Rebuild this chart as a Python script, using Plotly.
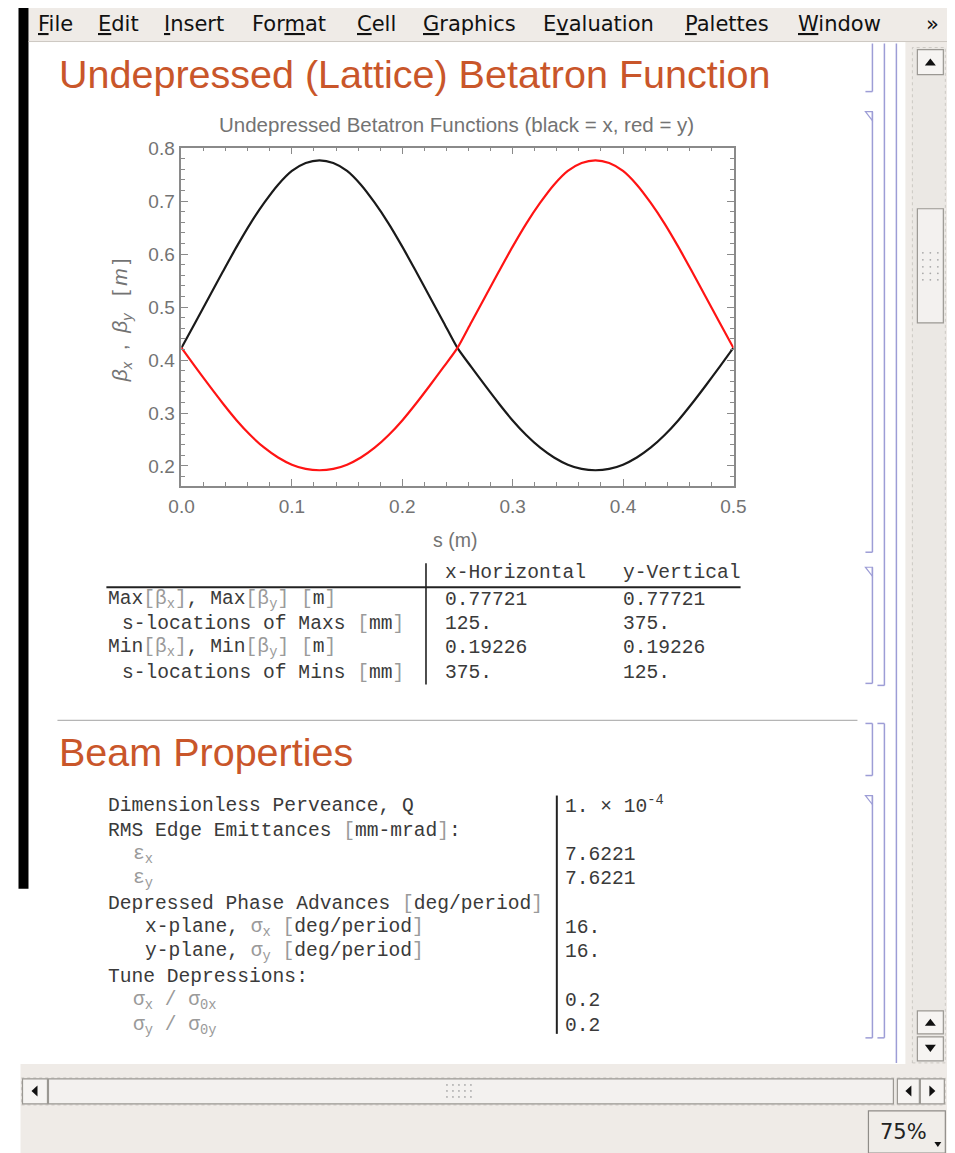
import plotly.graph_objects as go

# ---------------- data ----------------
s_m = [0.0, 0.0125, 0.025, 0.0375, 0.05, 0.0625, 0.075, 0.0875, 0.1, 0.1125, 0.125,
       0.1375, 0.15, 0.1625, 0.175, 0.1875, 0.2, 0.2125, 0.225, 0.2375, 0.25,
       0.2625, 0.275, 0.2875, 0.3, 0.3125, 0.325, 0.3375, 0.35, 0.3625, 0.375,
       0.3875, 0.4, 0.4125, 0.425, 0.4375, 0.45, 0.4625, 0.475, 0.4875, 0.5]
beta_x = [0.423, 0.471, 0.519, 0.567, 0.614, 0.658, 0.697, 0.731, 0.757, 0.772, 0.777,
          0.772, 0.757, 0.731, 0.697, 0.658, 0.614, 0.567, 0.519, 0.471, 0.423,
          0.387, 0.352, 0.318, 0.286, 0.258, 0.2345, 0.216, 0.2025, 0.1945, 0.192,
          0.1945, 0.2025, 0.216, 0.2345, 0.258, 0.286, 0.318, 0.352, 0.387, 0.423]
beta_y = [0.423, 0.387, 0.352, 0.318, 0.286, 0.258, 0.2345, 0.216, 0.2025, 0.1945, 0.192,
          0.1945, 0.2025, 0.216, 0.2345, 0.258, 0.286, 0.318, 0.352, 0.387, 0.423,
          0.471, 0.519, 0.567, 0.614, 0.658, 0.697, 0.731, 0.757, 0.772, 0.777,
          0.772, 0.757, 0.731, 0.697, 0.658, 0.614, 0.567, 0.519, 0.471, 0.423]

menu_items = ["<u>F</u>ile", "<u>E</u>dit", "<u>I</u>nsert", "For<u>m</u>at", "<u>C</u>ell",
              "<u>G</u>raphics", "E<u>v</u>aluation", "<u>P</u>alettes", "<u>W</u>indow", "»"]
menu_x = [36, 96, 162, 250, 355, 421, 541, 683, 796, 925]

section_titles = ["Undepressed (Lattice) Betatron Function", "Beam Properties"]
chart_title = "Undepressed Betatron Functions (black = x, red = y)"

table_cols = ["x-Horizontal", "y-Vertical"]
table_x_values = ["0.77721", "125.", "0.19226", "375."]
table_y_values = ["0.77721", "375.", "0.19226", "125."]

beam_values = ["1. × 10<sup>-4</sup>", "", "7.6221", "7.6221", "", "16.", "16.", "", "0.2", "0.2"]

# ---------------- helpers (screen pixel -> paper fraction) ----------------
W, H = 955, 1153
OX, KX = 20.5, 0.974
OY, KY = 18.5, 0.990
def X(px): return ((px - OX) / KX) / W
def Y(py): return 1 - ((py - OY) / KY) / H

shapes = []
annotations = []
UI = "#efebe7"
BR = "#9d9dd6"
INK = "#3a3a3a"

def rect(x0, y0, x1, y1, fill, line=None, lw=1.0, dash=None, layer="below"):
    shapes.append(dict(type="rect", xref="paper", yref="paper",
                       x0=X(x0), x1=X(x1), y0=Y(y1), y1=Y(y0), fillcolor=fill,
                       line=dict(color=line if line else fill, width=lw if line else 0, dash=dash),
                       layer=layer))

def seg(x0, y0, x1, y1, color, width=1.0, dash=None):
    shapes.append(dict(type="line", xref="paper", yref="paper",
                       x0=X(x0), x1=X(x1), y0=Y(y0), y1=Y(y1),
                       line=dict(color=color, width=width, dash=dash)))

def poly(pts, fill, line=None):
    d = "M " + " L ".join(f"{X(a):.5f},{Y(b):.5f}" for a, b in pts) + " Z"
    shapes.append(dict(type="path", xref="paper", yref="paper", path=d,
                       fillcolor=fill,
                       line=dict(color=line if line else fill, width=1.2 if line else 0)))

def dot(x, y, r=0.9, color="#a8a8a8"):
    shapes.append(dict(type="circle", xref="paper", yref="paper",
                       x0=X(x - r), x1=X(x + r), y0=Y(y + r), y1=Y(y - r),
                       fillcolor=color, line=dict(width=0)))

def txt(x, y, s, size, color=INK, family="Liberation Mono", xanchor="left", angle=0):
    annotations.append(dict(x=X(x), y=Y(y), xref="paper", yref="paper", text=s,
                            showarrow=False, xanchor=xanchor, yanchor="middle",
                            textangle=angle, font=dict(size=size, color=color, family=family)))

def g(s):
    return f"<span style='color:#9a9a9a'>{s}</span>"

# ---------------- window chrome ----------------
rect(28, 0, 956, 42, UI)
seg(28, 42, 956, 42, "#cdc8c2", 1)
rect(18, 4, 28, 888, "#000000")
rect(906, 42, 951, 1065, UI)
rect(20, 1063, 951, 1154, UI)

# right scrollbar
rect(913, 48, 946, 1062, "#ebe8e4", "#c4c0bb", 0.8, "dot")
rect(918, 50, 944, 75, "#f6f4f2", "#9b9893", 1.2)
poly([(925.5, 66), (936.5, 66), (931, 59)], "#111111")
rect(918, 209, 944, 323, "#f3f1ef", "#9b9893", 1.2)
for gx in (923.5, 931, 938.5):
    for gy in (253, 260, 267, 273.5, 280):
        dot(gx, gy)
rect(918, 1010, 944, 1033, "#f6f4f2", "#9b9893", 1.2)
poly([(925.5, 1025), (936.5, 1025), (931, 1018)], "#111111")
rect(918, 1036, 944, 1060, "#f6f4f2", "#9b9893", 1.2)
poly([(925.5, 1044), (936.5, 1044), (931, 1051)], "#111111")

# bottom scrollbar
rect(21, 1077, 946, 1104, "#ebe8e4", "#c4c0bb", 0.8, "dot")
rect(22, 1078, 47, 1103, "#f6f4f2", "#9b9893", 1.2)
poly([(37, 1084.5), (37, 1095.5), (31, 1090)], "#111111")
rect(48, 1078, 894, 1103, "#f3f1ef", "#9b9893", 1.2)
for gx in (447, 453, 459, 465, 471):
    for gy in (1084, 1090, 1096):
        dot(gx, gy)
rect(898, 1078, 920, 1103, "#f6f4f2", "#9b9893", 1.2)
poly([(912, 1084.5), (912, 1095.5), (906, 1090)], "#111111")
rect(921, 1078, 945, 1103, "#f6f4f2", "#9b9893", 1.2)
poly([(930, 1084.5), (930, 1095.5), (936, 1090)], "#111111")

# zoom box
rect(869, 1110, 946, 1152, "#f0ede9", "#8f8c88", 1.2)
txt(904, 1131, "75%", 21, "#222222", "DejaVu Sans", "center")
poly([(935, 1141), (942, 1141), (938.5, 1146)], "#111111")

# menu texts
for mx, mt in zip(menu_x, menu_items):
    txt(mx, 24, mt, 21, "#111111", "DejaVu Sans")

# ---------------- cell brackets ----------------
def bracket(x, y0, y1, top_hook=False, bottom_hook=True, tri=False):
    seg(x, y0, x, y1, BR, 1.5)
    if top_hook:
        seg(x - 7, y0, x, y0, BR, 1.5)
    if bottom_hook:
        seg(x - 7, y1, x, y1, BR, 1.5)
    if tri:
        poly([(x - 7, y0), (x, y0), (x, y0 + 9)], "rgba(0,0,0,0)", BR)

bracket(873, 44, 92)
bracket(873, 112, 552, tri=True)
bracket(873, 567, 683, tri=True)
bracket(885, 44, 685)
seg(897, 44, 897, 1062, BR, 1.5)
bracket(873, 723, 775, top_hook=True)
bracket(885, 723, 1037, top_hook=True)
bracket(873, 795, 1037, tri=True)

# ---------------- section titles ----------------
SEC = "#c9562a"
txt(57, 74, section_titles[0], 39.5, SEC, "Liberation Sans")
seg(57, 720, 858, 720, "#b5b5b5", 1.2)
txt(57, 752, section_titles[1], 39.5, SEC, "Liberation Sans")

# ---------------- plot ----------------
fig = go.Figure()
fig.add_trace(go.Scatter(x=s_m, y=beta_x, mode="lines",
                         line=dict(color="#1a1a1a", width=2.2, shape="spline", smoothing=0.7),
                         showlegend=False, hoverinfo="skip"))
fig.add_trace(go.Scatter(x=s_m, y=beta_y, mode="lines",
                         line=dict(color="#ff1414", width=2.2, shape="spline", smoothing=0.7),
                         showlegend=False, hoverinfo="skip"))

FR = "#8a8a8a"
TK = "#737373"
common = dict(showline=True, linecolor=FR, linewidth=1.5, mirror="ticks", ticks="inside",
              ticklen=7, tickwidth=1.2, tickcolor=FR, showgrid=False, zeroline=False,
              tickformat=".1f", tickfont=dict(size=19, color=TK, family="Liberation Sans"),
              minor=dict(ticks="inside", ticklen=4, tickwidth=1, tickcolor=FR, showgrid=False))

fig.update_xaxes(domain=[X(181), X(734)], range=[-0.0002, 0.5002], dtick=0.1, tick0=0,
                 minor_dtick=0.02, ticklabelstandoff=2, **common)
fig.update_yaxes(domain=[Y(486), Y(148)], range=[0.162, 0.8008], dtick=0.1, tick0=0,
                 minor_dtick=0.02, ticklabelstandoff=1, **common)

txt(457, 125, chart_title, 20.5, "#737373", "Liberation Sans", "center")
txt(455, 540, "s (m)", 19.5, TK, "Liberation Sans", "center")
txt(121, 320,
    "<i>β</i><sub><i>x</i></sub>\u00a0\u00a0,\u00a0\u00a0<i>β</i><sub><i>y</i></sub>"
    "\u00a0\u00a0\u00a0[\u2009<i>m</i>\u2009]",
    21, TK, "Liberation Sans", "center", -90)

# ---------------- table of extrema ----------------
MONO = 19.6
seg(426, 563, 426, 684, "#222222", 1.6)
seg(106, 587, 741, 587, "#222222", 2)
txt(443, 573, table_cols[0], MONO)
txt(621, 573, table_cols[1], MONO)
row_y = [600, 624, 648, 673]
row_labels = [
    (106, f"Max{g('[β<sub>x</sub>]')}, Max{g('[β<sub>y</sub>]')} {g('[')}m{g(']')}"),
    (120, f"s-locations of Maxs {g('[')}mm{g(']')}"),
    (106, f"Min{g('[β<sub>x</sub>]')}, Min{g('[β<sub>y</sub>]')} {g('[')}m{g(']')}"),
    (120, f"s-locations of Mins {g('[')}mm{g(']')}"),
]
for yy, (lx, lab), vx, vy in zip(row_y, row_labels, table_x_values, table_y_values):
    txt(lx, yy, lab, MONO)
    txt(443, yy, vx, MONO)
    txt(621, yy, vy, MONO)

# ---------------- beam properties ----------------
seg(557, 795, 557, 1033, "#222222", 2)
beam_y = [805, 830, 854, 878, 903, 927, 951, 976, 1000, 1025]
beam_labels = [
    (106, "Dimensionless Perveance, Q"),
    (106, f"RMS Edge Emittances {g('[')}mm-mrad{g(']')}:"),
    (131, g("ε<sub>x</sub>")),
    (131, g("ε<sub>y</sub>")),
    (106, f"Depressed Phase Advances {g('[')}deg/period{g(']')}"),
    (143, f"x-plane, {g('σ<sub>x</sub>')} {g('[')}deg/period{g(']')}"),
    (143, f"y-plane, {g('σ<sub>y</sub>')} {g('[')}deg/period{g(']')}"),
    (106, "Tune Depressions:"),
    (131, g("σ<sub>x</sub> / σ<sub>0x</sub>")),
    (131, g("σ<sub>y</sub> / σ<sub>0y</sub>")),
]
for yy, (lx, lab), val in zip(beam_y, beam_labels, beam_values):
    txt(lx, yy, lab, MONO)
    if val:
        txt(563, yy, val, MONO)

fig.update_layout(width=W, height=H, autosize=False,
                  margin=dict(l=0, r=0, t=0, b=0, pad=0),
                  paper_bgcolor="white", plot_bgcolor="white",
                  shapes=shapes, annotations=annotations, showlegend=False)

fig.write_html("out.html")
